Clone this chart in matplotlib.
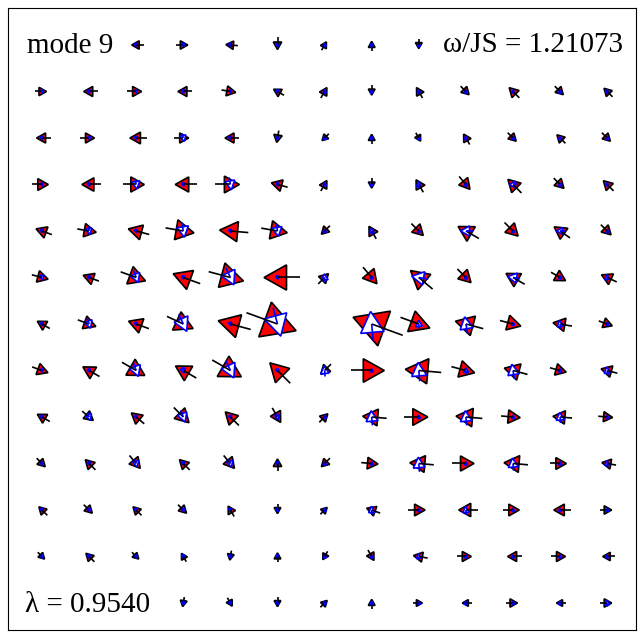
import numpy as np
import matplotlib.pyplot as plt
from matplotlib.patches import Polygon

RED = "#ff0000"
BLUE = "#0000ff"

# red arrow: direction (deg, 0 = right, 90 = up) and size per site, row 0 = top
red_angle = [
    [0, 0, 180, 0, 175, -90, 60, 90, -90, 0, 0, 0, 0],
    [0, 180, 0, 180, -10, 150, 60, -90, 120, -45, 135, -45, 135],
    [180, 0, 180, 0, 180, -100, -135, 90, -60, 120, -45, 135, -45],
    [0, 180, 0, 180, 0, 165, 60, -90, 120, -50, 135, -45, 135],
    [160, -10, 165, -10, 175, -10, -135, 120, -45, 150, -45, 145, -45],
    [-15, 160, -20, 160, -15, 180, 45, -50, 140, -45, 150, -30, 155],
    [150, -20, 160, -25, 165, -20, 0, 160, -20, 165, -15, 170, -20],
    [-20, 150, -30, 150, -30, 135, -135, 0, 175, -15, 165, -15, 165],
    [150, -40, 140, -45, 135, -60, 45, 175, 0, 175, -5, 175, -5],
    [-45, 135, -50, 135, -50, 90, -135, -5, 175, 0, 175, 0, 170],
    [135, -45, 135, -45, 120, -90, 45, 160, 0, 180, 0, 180, 0],
    [-45, 135, -45, 120, -100, 90, -120, -60, 170, 0, 180, 0, 180],
    [0, 0, 0, -100, -60, -90, 45, 90, 0, 180, 0, 180, 0],
]
red_size = [
    [0, 0, 5, 5, 5, 5, 4, 4, 4, 0, 0, 0, 0],
    [5, 6, 6, 6, 6, 5, 5, 4, 5, 5, 6, 5, 5],
    [6, 6, 7, 6, 6, 5, 4, 4, 4, 5, 5, 5, 5],
    [7, 8, 9, 9, 10, 7, 5, 4, 6, 7, 8, 6, 6],
    [7, 8, 9, 12, 12, 11, 5, 6, 7, 10, 8, 8, 6],
    [7, 7, 11, 12, 15, 15, 6, 9, 12, 8, 9, 7, 7],
    [6, 8, 9, 12, 14, 22, 0, 22, 13, 12, 9, 8, 6],
    [7, 8, 11, 10, 14, 12, 6, 14, 15, 10, 10, 7, 7],
    [6, 6, 7, 9, 8, 7, 5, 10, 10, 11, 8, 8, 6],
    [5, 6, 7, 6, 7, 5, 5, 7, 10, 9, 10, 7, 6],
    [5, 5, 5, 5, 5, 4, 4, 6, 7, 8, 7, 7, 5],
    [4, 5, 4, 4, 4, 4, 4, 5, 6, 6, 6, 6, 5],
    [0, 0, 0, 4, 4, 4, 4, 4, 4, 4, 5, 4, 5],
]
# blue arrow: direction and size per site
blue_angle = [
    [-75, -75, -75, -75, -75, -75, 95, 95, 95, 95, 95, 95, 95],
    [-75, -75, -75, -75, -75, -75, 95, 95, 95, 95, 95, 95, 95],
    [-75, -75, -75, -75, -75, -75, 95, 95, 95, 95, 95, 95, 95],
    [-75, -75, -80, -75, -80, -75, 95, 95, 95, 95, 180, 95, 95],
    [-75, -80, -75, -80, -75, -80, 95, 95, 95, 180, 95, 180, 95],
    [-75, -75, -70, -75, -65, -75, 95, 95, 170, 95, 170, 95, 95],
    [-75, -70, -75, -65, -75, -75, 0, 95, 95, 100, 95, 100, 95],
    [-75, -75, -70, -75, -65, -75, 95, 95, 95, 95, 100, 95, 100],
    [-75, -70, -75, -70, -75, -75, 95, 95, 95, 95, 95, 95, 95],
    [-75, -75, -75, -75, -75, -75, 95, 95, 95, 95, 95, 95, 95],
    [-75, -75, -75, -75, -75, -75, 95, 95, 95, 95, 95, 95, 95],
    [-75, -75, -75, -75, -75, -75, 95, 95, 95, 95, 95, 95, 95],
    [-75, -75, -75, -75, -75, -75, 95, 95, 95, 95, 95, 95, 95],
]
blue_size = [
    [0, 0, 2, 2, 2, 2, 2, 2, 2, 0, 0, 0, 0],
    [2, 2, 2, 2, 2, 2, 2, 2, 2, 2, 2, 2, 2],
    [2, 2, 2, 4, 2, 2, 2, 2, 2, 2, 2, 2, 2],
    [2, 2, 5, 2, 6, 2, 2, 2, 3, 2, 4, 2, 2],
    [2, 4, 2, 7, 2, 6, 2, 3, 2, 6, 2, 4, 2],
    [3, 2, 6, 2, 9, 2, 4, 2, 8, 2, 6, 2, 3],
    [2, 5, 2, 9, 2, 14, 0, 14, 4, 8, 2, 4, 2],
    [2, 2, 7, 3, 9, 2, 5, 2, 9, 3, 7, 2, 4],
    [2, 4, 2, 6, 2, 3, 2, 7, 2, 7, 2, 5, 2],
    [2, 2, 4, 2, 4, 2, 2, 2, 7, 2, 6, 2, 3],
    [2, 2, 2, 2, 2, 2, 2, 4, 2, 4, 2, 2, 2],
    [2, 2, 2, 2, 2, 2, 2, 2, 3, 2, 2, 2, 2],
    [0, 0, 0, 2, 2, 2, 2, 2, 2, 2, 2, 2, 3],
]

mode_label = "mode 9"
omega_label = "\u03c9/JS = 1.21073"
lambda_label = "\u03bb = 0.9540"

W, H = 641, 635
X0, DX = 42.0, 47.1   # site grid in pixels
Y0, DY = 45.0, 46.5
SCALE = 1.5


def arrow(ax, cx, cy, ang, size, face, edge, lw, tail_color, tail_len):
    L = size * SCALE
    a = np.deg2rad(ang)
    u = np.array([np.cos(a), -np.sin(a)])   # y axis points down
    n = np.array([-u[1], u[0]])
    c = np.array([cx, cy])
    tip = c + 0.6 * L * u
    base = c - 0.4 * L * u
    tri = [tip, base + 0.56 * L * n, base - 0.56 * L * n]
    ax.add_patch(Polygon(tri, closed=True, facecolor=face, edgecolor=edge,
                         linewidth=lw, joinstyle="miter", zorder=2))
    tail = c - tail_len * L * u
    ax.plot([cx, tail[0]], [cy, tail[1]], color=tail_color, linewidth=lw,
            solid_capstyle="butt", zorder=3)


fig = plt.figure(figsize=(W / 100, H / 100), dpi=100)
ax = fig.add_axes([8 / W, (H - 630) / H, 628 / W, 622 / H])
ax.set_xlim(8, 636)
ax.set_ylim(630, 8)

for r in range(13):
    for c in range(13):
        x, y = X0 + DX * c, Y0 + DY * r
        if red_size[r][c] > 0:
            arrow(ax, x, y, red_angle[r][c], red_size[r][c], RED, "black", 1.2,
                  "black", 1.0)
        if blue_size[r][c] > 0:
            arrow(ax, x, y, blue_angle[r][c], blue_size[r][c], "white", BLUE, 1.2,
                  BLUE, 0.8)

font = dict(family="Liberation Serif", fontsize=21, color="black")
ax.text(27, 53, mode_label, ha="left", va="baseline", **font)
ax.text(623, 52, omega_label, ha="right", va="baseline", **font)
ax.text(25, 612, lambda_label, ha="left", va="baseline", **font)

ax.set_xticks([])
ax.set_yticks([])
for spine in ax.spines.values():
    spine.set_linewidth(0.8)

fig.savefig("out.png", dpi=100)
